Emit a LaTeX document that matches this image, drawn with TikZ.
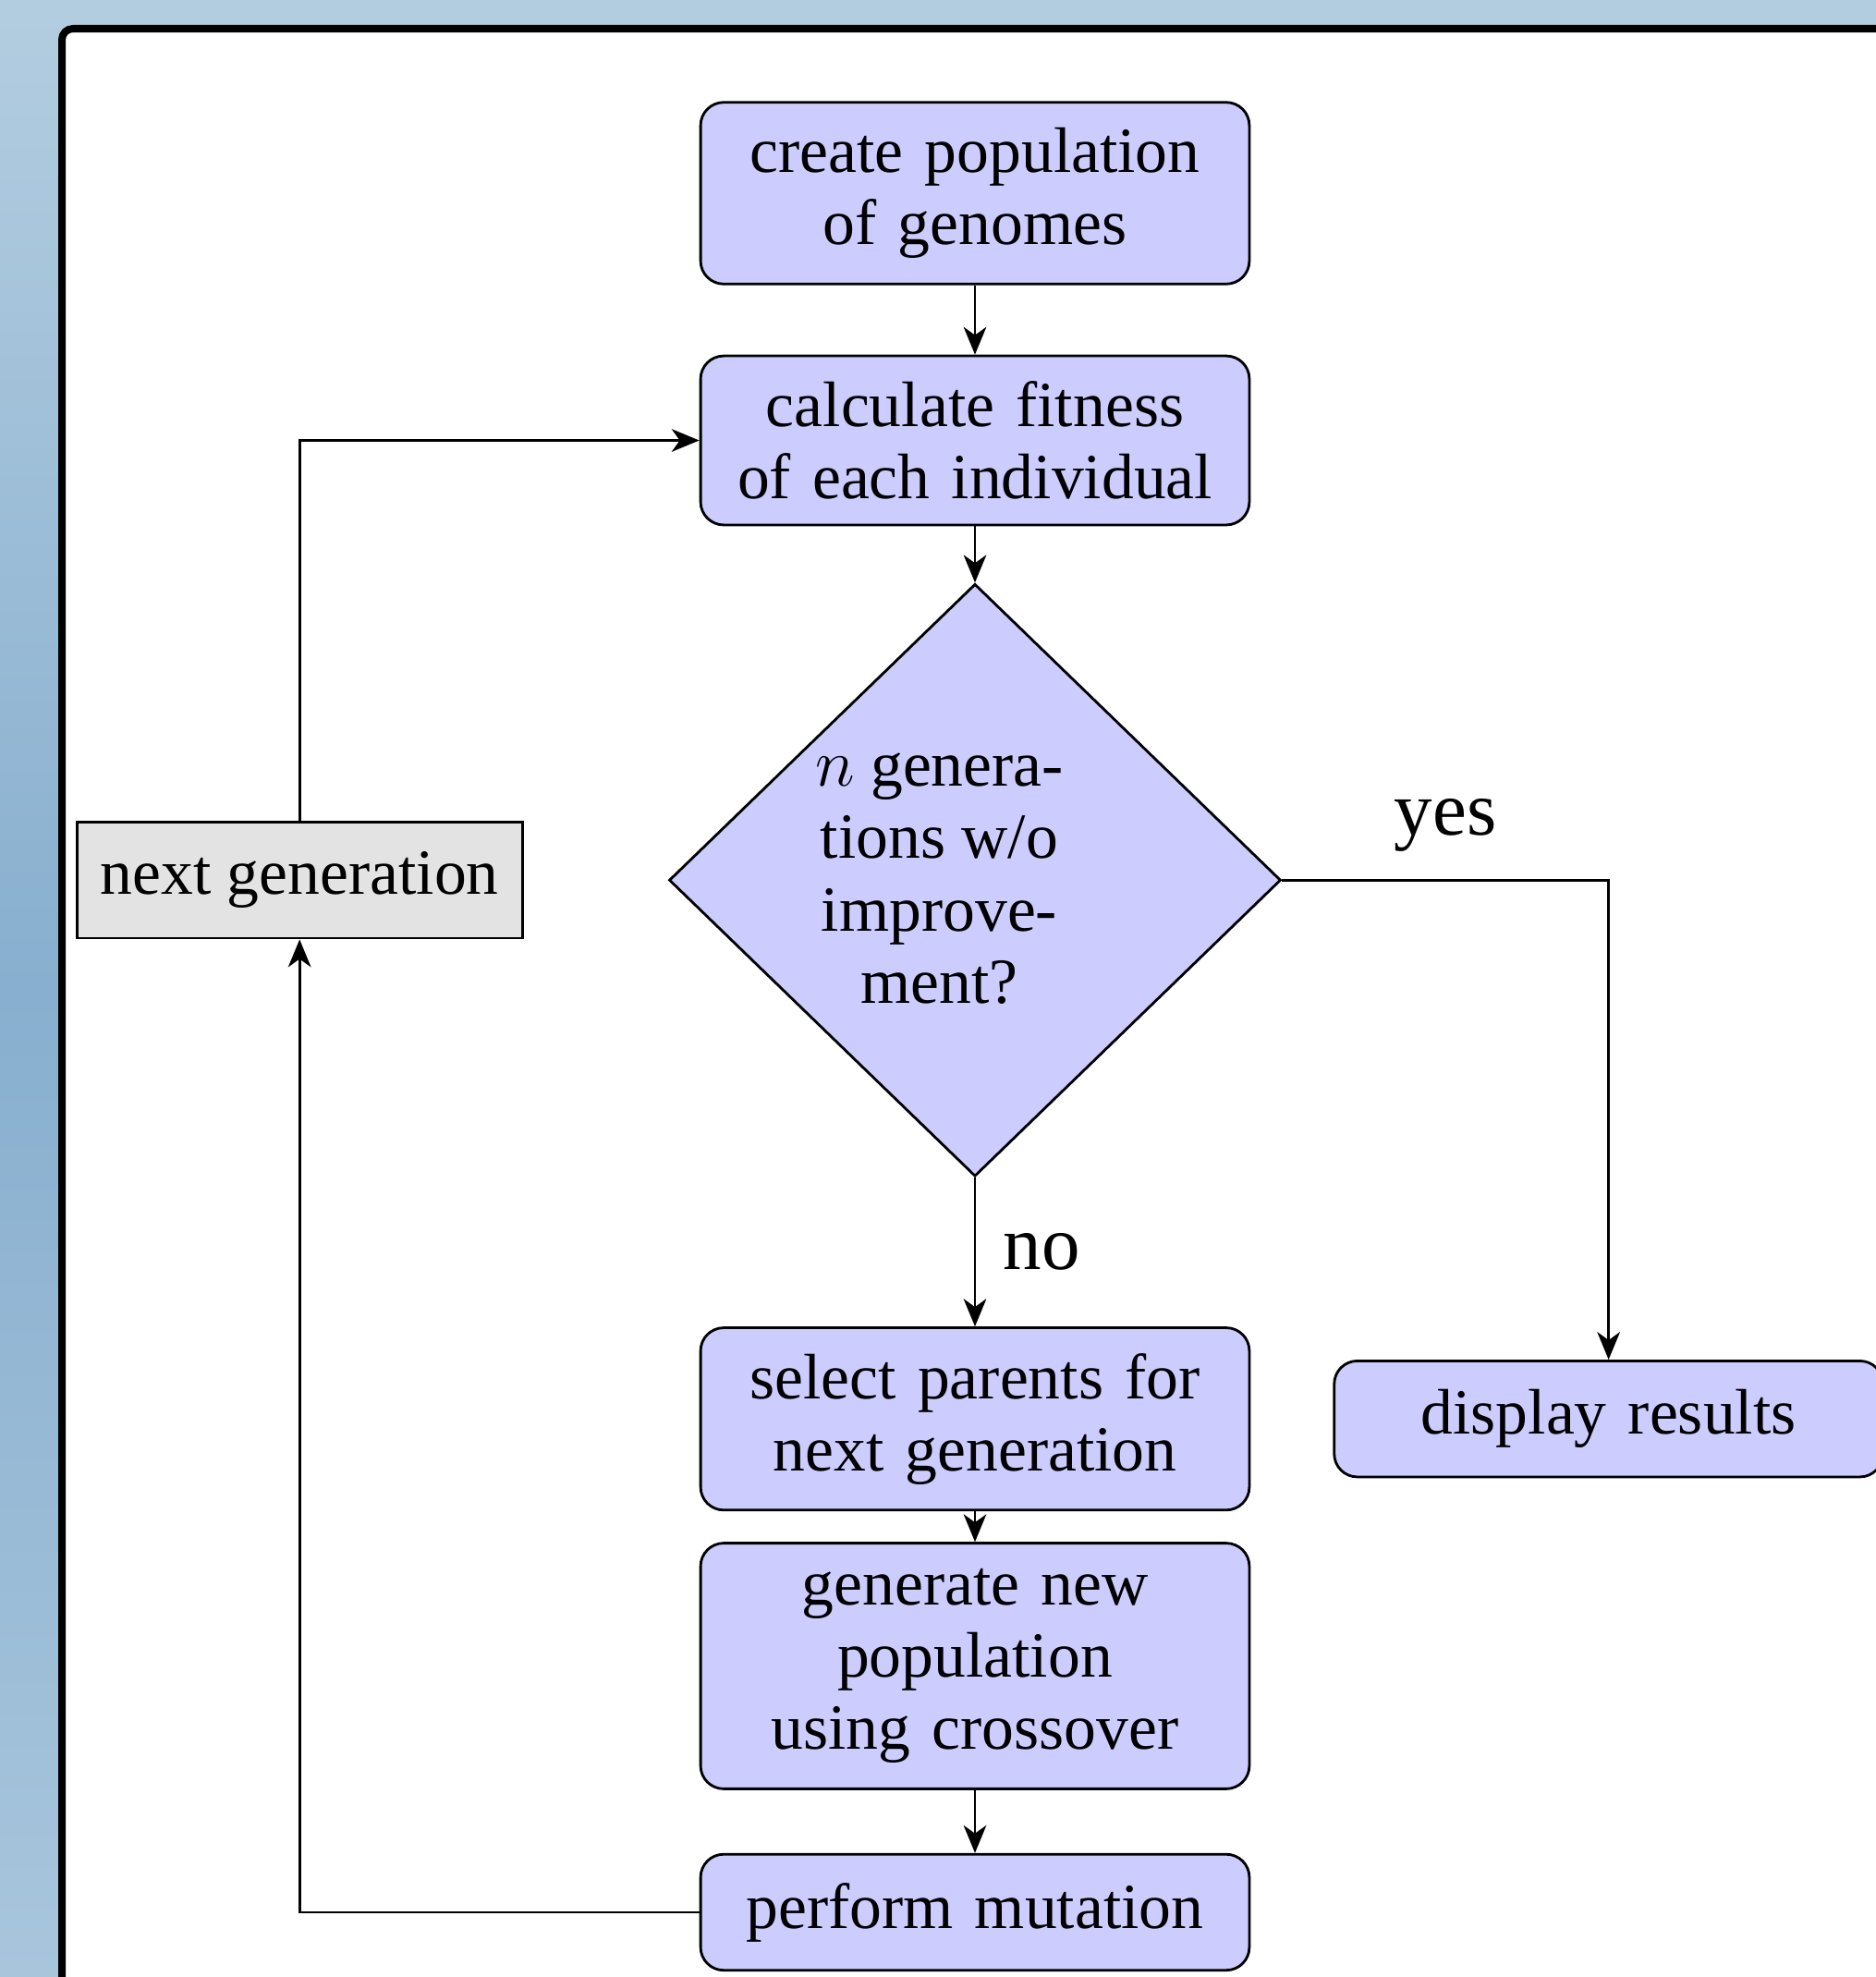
\documentclass[tikz,border=0pt]{standalone}
\usepackage{fontspec}
\setmainfont{Liberation Serif}
\usepackage{tikz}
\usetikzlibrary{shapes.geometric}
\usetikzlibrary{arrows.meta}
\usetikzlibrary{positioning}
\definecolor{bgTop}{RGB}{179,205,224}
\definecolor{bgMid}{RGB}{136,175,207}
\definecolor{bgBot}{RGB}{168,197,220}

\begin{document}
\begin{tikzpicture}
      \tikzset{
         bblock/.style = {
            rectangle, draw, fill=blue!20,
            rounded corners=0.25cm, line width=0.8pt,
            text width=5.39cm, align=center,
            inner sep=7.8pt, minimum height=1.255cm,
            font=\fontsize{19.8pt}{22.3pt}\selectfont
         },
         bgray/.style = {
            rectangle, draw, fill=black!11, line width=0.8pt,
            minimum width=4.82cm, minimum height=1.255cm,
            font=\fontsize{19.8pt}{22.3pt}\selectfont
         },
         bdecide/.style = {
            diamond, aspect=1, draw, fill=blue!20, line width=0.8pt,
            inner sep=0pt, minimum width=6.62cm, minimum height=6.41cm,
            font=\fontsize{19.8pt}{22.3pt}\selectfont
         },
         flow/.style = {
            draw, line width=0.8pt,
            -{Stealth[length=8.5pt, width=7pt, inset=2.5pt]}
         },
         lbl/.style = {font=\fontsize{23.6pt}{28pt}\selectfont}
      }
      % page, background and frame
      \clip (0,0) rectangle (20.30,-21.39);
      \shade[top color=bgTop, bottom color=bgBot, middle color=bgMid]
         (0,0) rectangle (20.30,-21.39);
      \draw[line width=0.08cm, fill=white, rounded corners=0.12cm]
         (0.67,-0.31) rectangle (21.5,-22.5);
      % flow chart
      \node[bblock] (createPop) at (10.55,-2.09) {create population\\of genomes} ;
      \node[bblock, below=0.75cm of createPop] (calcFit) {calculate fitness\\of each individual} ;
      \node[bdecide, below=0.61cm of calcFit] (decide) {
        \makebox[0pt]{\begin{tabular}{@{}c@{\hspace{0.77cm}}}
          $n$ genera-\\tions w/o\\improve-\\ment?
        \end{tabular}}
      } ;
      \node[bblock, below=1.61cm of decide] (selectPar) {select parents for\\next generation} ;
      \node[bblock, below=0.33cm of selectPar] (genPop) {generate new\\population\\using crossover} ;
      \node[bblock, below=0.68cm of genPop] (mutate) {perform mutation} ;
      \node[bgray, left=1.56cm of decide] (nextGen) {next generation} ;
      \node[bblock, right=0.89cm of selectPar] (display) {display results} ;
      \draw [flow] (createPop) -- (calcFit) ;
      \draw [flow] (calcFit) -- (decide) ;
      \draw [flow] (decide) -- node[lbl, right=5pt] {no} (selectPar) ;
      \draw [flow] (decide) -| node[lbl, above=5pt, pos=0.25] {yes} (display) ;
      \draw [flow] (selectPar) -- (genPop) ;
      \draw [flow] (genPop) -- (mutate) ;
      \draw [flow] (mutate) -| (nextGen) ;
      \draw [flow] (nextGen) |- (calcFit) ;
    \end{tikzpicture}
\end{document}
